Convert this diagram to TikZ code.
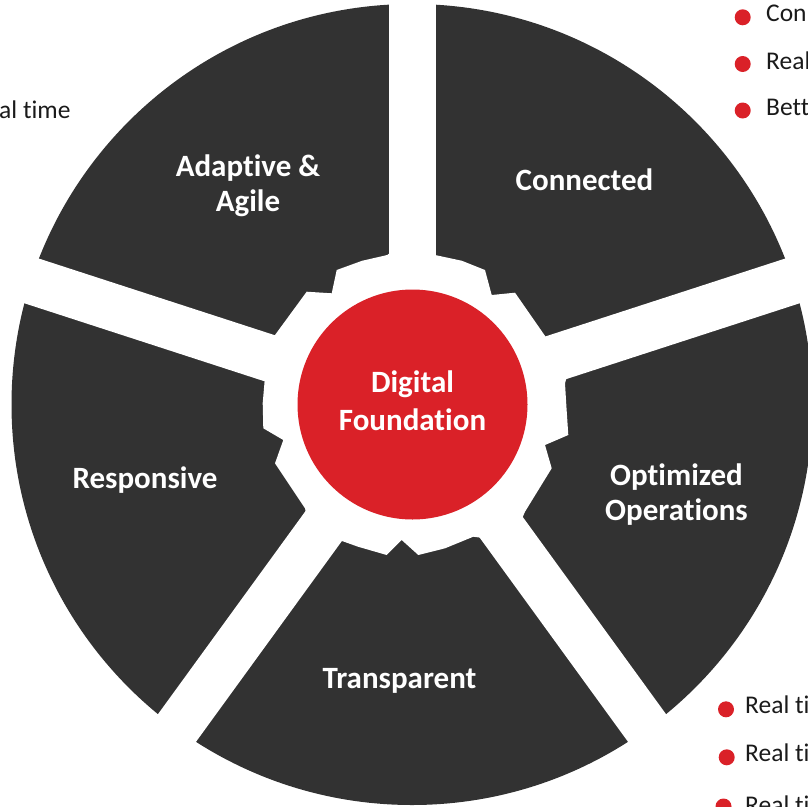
\documentclass[tikz,border=0pt]{standalone}
\usepackage{fontspec}
\setmainfont{Carlito}[Ligatures=NoCommon]
\definecolor{dark}{HTML}{323232}
\definecolor{brandred}{HTML}{DA2128}
\definecolor{ink}{HTML}{1A1A1A}
\begin{document}
\begin{tikzpicture}[x=1pt,y=-1pt,
  darkfill/.style={fill=dark},
  seglabel/.style={text=white, font=\bfseries\fontsize{31}{35}\selectfont, align=center, anchor=base, inner sep=0pt},
  bullettext/.style={text=ink, font=\fontsize{25.5}{30}\selectfont, anchor=base west, inner sep=0pt},
  bulletdot/.style={circle, fill=brandred, minimum size=16pt, inner sep=0pt},
  gapband/.style={white, line width=47pt}
]
\useasboundingbox (0,0) rectangle (808,806);
\clip (0,0) rectangle (808,806);
\coordinate (C) at (412,404.5);

% outer dark disk
\fill[darkfill] (C) circle[radius=400.5pt];

% white gear around the centre
\fill[white] (412,234.5) -- (435,255) -- (462,260.8) -- (485,270) -- (491.7,295) -- (515,292.7)
  -- (546.7,338.3) -- (574,352) -- (565,383.3) -- (566.5,408) -- (568.3,435) -- (545,445)
  -- (551.7,468.3) -- (525,511.7) -- (512,542) -- (473.3,536.7) -- (445,548.3) -- (418.3,555)
  -- (401.7,540) -- (386.7,555) -- (358,546.7) -- (330,536.7) -- (312,542) -- (305,508.3)
  -- (275,463.3) -- (283.3,440) -- (263.3,428.3) -- (262.7,403) -- (265,376.7) -- (251,352)
  -- (275,335) -- (306.7,291.7) -- (331.7,293.3) -- (336.7,270) -- (362,260.8) -- (387.3,255)
  -- cycle;

% white gaps between the five segments
\foreach \a in {90,18,-54,-126,162}
  \draw[gapband] (C) -- ++(-\a:470);

% centre circle
\node[circle, fill=brandred, minimum size=230pt, inner sep=0pt] (core) at (412.5,404.5) {};
\node[seglabel, font=\bfseries\fontsize{31}{38}\selectfont] (tcore) at (412.5,430.7) {Digital\\Foundation};

% segment labels (base = baseline of the last line)
\node[seglabel] (tadapt) at (248,211) {Adaptive \&\\Agile};
\node[seglabel] (tconn) at (584.5,190) {Connected};
\node[seglabel] (tresp) at (145,488.5) {Responsive};
\node[seglabel] (topt) at (676.5,520.5) {Optimized\\Operations};
\node[seglabel] (ttrans) at (399.5,688.5) {Transparent};

% cut-off text at the edges
\node[bullettext] (tl) at (-1,118.5) {al time};

\node[bulletdot] (b1) at (742.7,17.3) {};
\node[bulletdot] (b2) at (742.7,64) {};
\node[bulletdot] (b3) at (742.7,110.5) {};
\node[bullettext] (r1) at (766,21.7) {Con};
\node[bullettext] (r2) at (766,69) {Real};
\node[bullettext] (r3) at (766,115) {Bett};

\node[bulletdot] (b4) at (726,709.3) {};
\node[bulletdot] (b5) at (726.7,757.3) {};
\node[bulletdot] (b6) at (723.5,806.5) {};
\node[bullettext] (r4) at (745,713.3) {Real ti};
\node[bullettext] (r5) at (745,761.7) {Real ti};
\node[bullettext] (r6) at (745,813.4) {Real ti};
\end{tikzpicture}
\end{document}
